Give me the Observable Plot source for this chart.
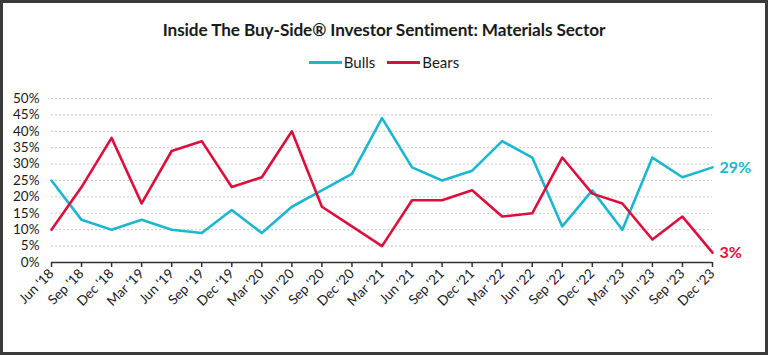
<!DOCTYPE html>
<html>
<head>
<meta charset="utf-8">
<script src="https://cdn.jsdelivr.net/npm/d3@7"></script>
<script src="https://cdn.jsdelivr.net/npm/@observablehq/plot@0.6"></script>
<style>
  html, body { margin: 0; padding: 0; background: #fff; }
  #frame {
    position: relative; width: 768px; height: 355px; box-sizing: border-box;
    border: 3px solid #3a3a3a; background: #fff; overflow: hidden;
    font-family: Lato, "Open Sans", sans-serif; color: #1a1a1a;
  }
  #title {
    position: absolute; left: 0; top: 16px; width: 762px; text-align: center;
    font-size: 17.2px; font-weight: 700; letter-spacing: -0.1px;
  }
  #legend {
    position: absolute; left: 0; top: 50px; width: 762px; display: flex;
    justify-content: center; align-items: center; font-size: 15px;
  }
  .sw { display: inline-block; width: 33px; height: 3px; margin-right: 2px; }
  .item { display: inline-flex; align-items: center; margin: 0 6px; }
  #chart { position: absolute; left: -3px; top: 67px; width: 768px; height: 278px; }
  #chart svg { max-width: none !important; width: 768px; height: 278px; }
</style>
</head>
<body>
<div id="frame">
  <div id="title">Inside The Buy-Side® Investor Sentiment: Materials Sector</div>
  <div id="legend"></div>
  <div id="chart"></div>
</div>
<script>
const quarters = ["Jun '18","Sep '18","Dec '18","Mar '19","Jun '19","Sep '19","Dec '19","Mar '20","Jun '20","Sep '20","Dec '20","Mar '21","Jun '21","Sep '21","Dec '21","Mar '22","Jun '22","Sep '22","Dec '22","Mar '23","Jun '23","Sep '23","Dec '23"];
const bulls = [25,13,10,13,10,9,16,9,17,22,27,44,29,25,28,37,32,11,22,10,32,26,29];
const bears = [10,23,38,18,34,37,23,26,40,17,11,5,19,19,22,14,15,32,21,18,7,14,3];
const yTicks = [0,5,10,15,20,25,30,35,40,45,50];
const seriesNames = ["Bulls","Bears"];
const seriesColors = ["#1bb6d0","#dc0f3c"];

const data = [];
quarters.forEach((q, i) => {
  data.push({i, q, series: "Bulls", v: bulls[i]});
  data.push({i, q, series: "Bears", v: bears[i]});
});
const lastIndex = quarters.length - 1;
const last = data.filter(d => d.i === lastIndex);

const legend = document.getElementById("legend");
seriesNames.forEach((s, k) => {
  const it = document.createElement("span");
  it.className = "item";
  it.innerHTML = `<span class="sw" style="background:${seriesColors[k]}"></span>${s}`;
  legend.appendChild(it);
});

const chart = Plot.plot({
  width: 768,
  height: 278,
  marginTop: 28,
  marginBottom: 86,
  marginLeft: 51,
  marginRight: 56,
  style: { fontFamily: "Lato, 'Open Sans', sans-serif", color: "#1a1a1a", background: "transparent" },
  x: { type: "linear", domain: [0, lastIndex], label: null },
  y: { domain: [0, 50], label: null },
  color: { domain: seriesNames, range: seriesColors },
  marks: [
    Plot.ruleY(yTicks.filter(t => t > 0), { stroke: "#c8c8c8", strokeDasharray: "2,2", strokeWidth: 1 }),
    Plot.axisY({ ticks: yTicks, tickFormat: d => d + "%", tickSize: 0, tickPadding: 12, fontSize: 13.5, letterSpacing: 1, label: null }),
    Plot.axisX({ ticks: d3.range(quarters.length), tickFormat: i => quarters[i], tickSize: 5, tickPadding: 4, tickRotate: -45, fontSize: 13.5, stroke: "#333", strokeWidth: 1.5, label: null }),
    Plot.ruleY([0], { stroke: "#333", strokeWidth: 1.5 }),
    Plot.line(data, { x: "i", y: "v", z: "series", stroke: "series", strokeWidth: 2.6 }),
    Plot.text(last, { x: "i", y: "v", text: d => d.v + "%", fill: "series", textAnchor: "start", dx: 7, fontSize: 16, fontWeight: 700 })
  ]
});
document.getElementById("chart").appendChild(chart);
</script>
</body>
</html>
